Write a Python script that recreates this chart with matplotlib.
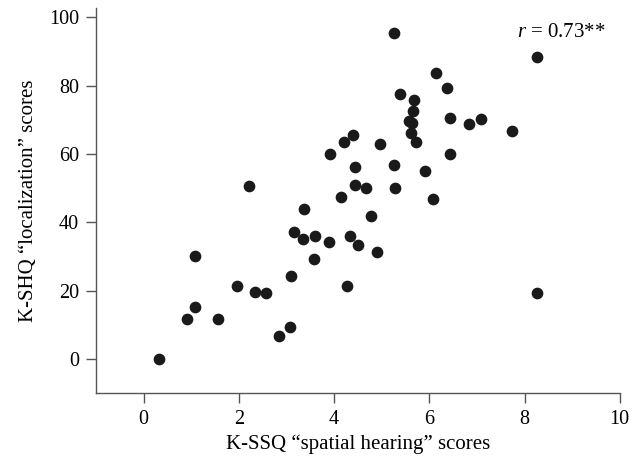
import matplotlib.pyplot as plt

plt.rcParams['font.family'] = ['Liberation Serif', 'DejaVu Serif']
plt.rcParams['mathtext.fontset'] = 'custom'
plt.rcParams['mathtext.it'] = 'Liberation Serif:italic'
plt.rcParams['mathtext.rm'] = 'Liberation Serif'

# K-SSQ spatial hearing vs K-SHQ localization
ssq = [0.32, 0.92, 1.09, 1.09, 1.56, 1.97, 2.21, 2.34, 2.57, 2.85,
       3.08, 3.09, 3.15, 3.35, 3.38, 3.60, 3.59, 3.90, 3.91, 4.15,
       4.20, 4.28, 4.33, 4.39, 4.44, 4.44, 4.50, 4.67, 4.77, 4.91,
       4.96, 5.26, 5.26, 5.28, 5.38, 5.58, 5.64, 5.61, 5.66, 5.68,
       5.73, 5.91, 6.08, 6.14, 6.37, 6.44, 6.44, 6.84, 7.09, 7.73,
       8.26, 8.26]
shq = [0.0, 11.8, 15.1, 30.0, 11.8, 21.3, 50.5, 19.5, 19.2, 6.8,
       9.3, 24.2, 37.1, 35.1, 43.8, 35.9, 29.2, 34.3, 60.1, 47.4,
       63.4, 21.3, 35.9, 65.5, 56.3, 51.0, 33.4, 49.9, 41.8, 31.3,
       63.0, 95.4, 56.7, 49.9, 77.5, 69.6, 69.1, 66.2, 72.6, 75.9,
       63.4, 55.0, 46.7, 83.7, 79.2, 70.5, 60.1, 68.7, 70.1, 66.7,
       88.3, 19.2]

fig = plt.figure(figsize=(6.35, 4.61), dpi=100)
ax = fig.add_axes([0.151, 0.1475, 0.825, 0.835])

ax.scatter(ssq, shq, s=55, color='#1a1a1a', zorder=3)

ax.set_xlim(-1, 10)
ax.set_ylim(-10, 102.7)
ax.set_xticks(range(0, 11, 2))
ax.set_yticks(range(0, 101, 20))

for side in ['top', 'right']:
    ax.spines[side].set_visible(False)
for side in ['left', 'bottom']:
    ax.spines[side].set_color('#555555')
    ax.spines[side].set_linewidth(1.0)
ax.tick_params(direction='out', length=7, width=1.0, color='#555555',
               labelsize=14.5, pad=5)

ax.set_xlabel('K-SSQ \u201cspatial hearing\u201d scores', fontsize=15, labelpad=4)
ax.set_ylabel('K-SHQ \u201clocalization\u201d scores', fontsize=15, labelpad=8)

ax.text(7.85, 95.5, r'$r$ = 0.73**', fontsize=15, ha='left', va='center')

plt.savefig('out.png', dpi=100)
